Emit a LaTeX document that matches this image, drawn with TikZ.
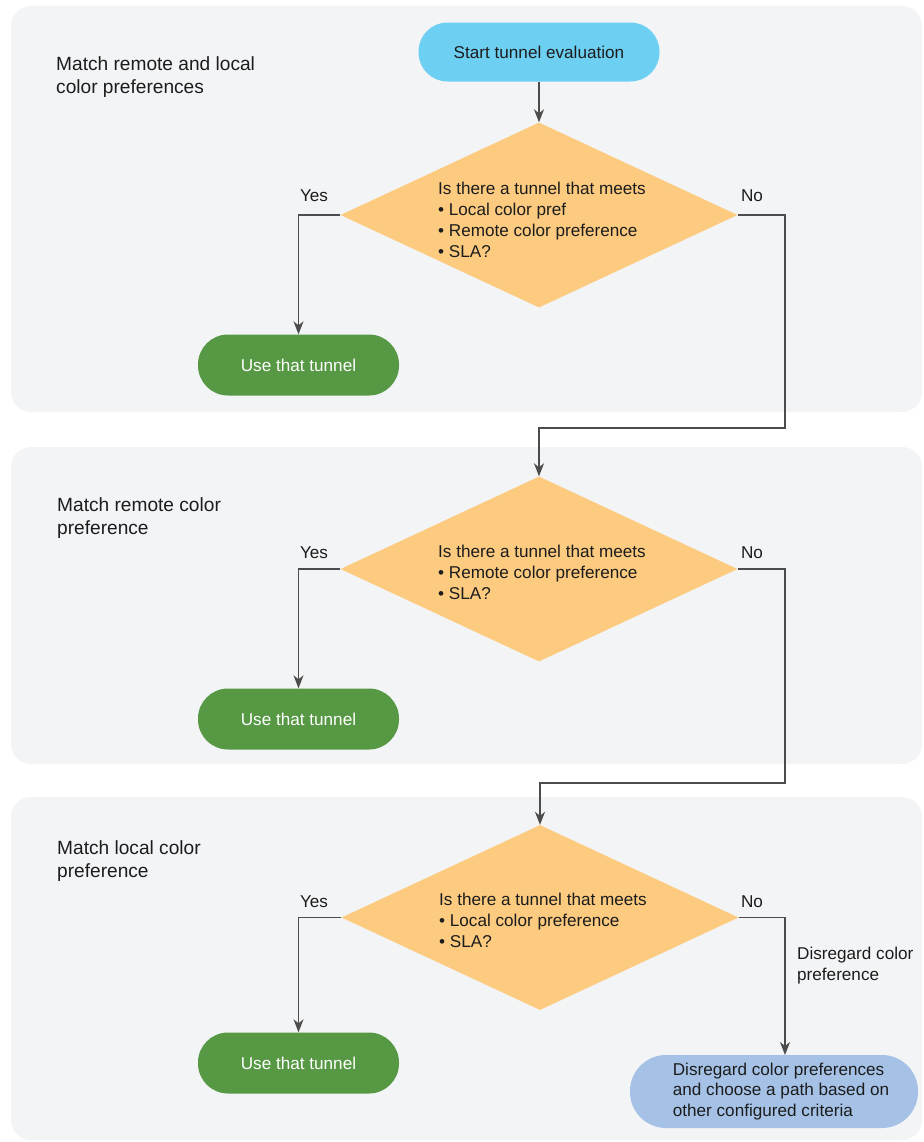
\documentclass[tikz,border=0pt]{standalone}
\usepackage{fontspec}
\setmainfont{Liberation Sans}
\usetikzlibrary{shapes.geometric,arrows.meta,positioning}
\definecolor{panelc}{HTML}{F3F4F6}
\definecolor{startc}{HTML}{6DCFF2}
\definecolor{decc}{HTML}{FCCB80}
\definecolor{greenc}{HTML}{569843}
\definecolor{bluec}{HTML}{A5C2E6}
\definecolor{linec}{HTML}{4C4C4C}
\definecolor{txtc}{HTML}{1C1C1C}
\tikzset{
  panel/.style={fill=panelc,draw=none,rounded corners=20bp},
  base/.style={font=\fontsize{17.2}{21}\selectfont,text=txtc},
  startbox/.style={base,shape=rectangle,rounded corners=29bp,fill=startc,minimum width=241bp,minimum height=59bp,inner sep=0},
  usebox/.style={base,shape=rectangle,rounded corners=30bp,fill=greenc,text=white,minimum width=201bp,minimum height=61bp,inner sep=0},
  endbox/.style={shape=rectangle,rounded corners=36bp,fill=bluec,minimum width=288bp,minimum height=73bp,inner sep=0},
  decbox/.style={shape=diamond,fill=decc,minimum width=397bp,minimum height=185bp,inner sep=0},
  dectext/.style={base,inner sep=0,align=left},
  lbl/.style={base,inner sep=0},
  seclbl/.style={inner sep=0,align=left,text=txtc,font=\fontsize{19.2}{23.5}\selectfont,anchor=north west},
  conn/.style={draw=linec,line width=1.5bp,-{Stealth[length=13bp,width=10bp,inset=4bp]}},
}
\begin{document}
\begin{tikzpicture}[x=1bp,y=-1bp]
\useasboundingbox (0,0) rectangle (924,1142);
\clip (0,0) rectangle (924,1142);
\fill[white] (0,0) rectangle (924,1142);
% panels
\path[panel] (11,6) rectangle (922,412);
\path[panel] (11,447) rectangle (922,764);
\path[panel] (11,797) rectangle (922,1140);
% section labels
\node[seclbl] (s1) at (56,56) {Match remote and local\\color preferences};
\node[seclbl] (s2) at (57,497) {Match remote color\\preference};
\node[seclbl] (s3) at (57,840) {Match local color\\preference};
% nodes
\node[startbox] (start) at (539,52) {Start tunnel evaluation};
\node[decbox] (d1) at (539,215) {};
\node[dectext] (t1) at (542,219.5) {Is there a tunnel that meets\\\textbullet{} Local color pref\\\textbullet{} Remote color preference\\\textbullet{} SLA?};
\node[usebox] (g1) at (298.5,365) {Use that tunnel};
\node[decbox] (d2) at (539,569) {};
\node[dectext] (t2) at (542,572.5) {Is there a tunnel that meets\\\textbullet{} Remote color preference\\\textbullet{} SLA?};
\node[usebox] (g2) at (298.5,719) {Use that tunnel};
\node[decbox] (d3) at (540,917.5) {};
\node[dectext] (t3) at (543,920.5) {Is there a tunnel that meets\\\textbullet{} Local color preference\\\textbullet{} SLA?};
\node[usebox] (g3) at (298.5,1063) {Use that tunnel};
\node[endbox] (e) at (774,1091.5) {};
\node[dectext] (et) at (781,1091.5) {Disregard color preferences\\and choose a path based on\\other configured criteria};
% helper coordinates
\coordinate (n1) at (785,428);
\coordinate (n2) at (785,783);
\coordinate (eTop) at (785,1055);
% connectors
\draw[conn] (start.south) -- (d1.north);
\draw[conn] (d1.west) -| (g1.north);
\draw[conn] (d1.east) -| (n1) -| (d2.north);
\draw[conn] (d2.west) -| (g2.north);
\draw[conn] (d2.east) -| (n2) -| (d3.north);
\draw[conn] (d3.west) -| (g3.north);
\draw[conn] (d3.east) -| (eTop);
% labels
\node[lbl] (y1) at (314,196) {Yes};
\node[lbl] (no1) at (752,196) {No};
\node[lbl] (y2) at (314,553) {Yes};
\node[lbl] (no2) at (752,553) {No};
\node[lbl] (y3) at (314,902) {Yes};
\node[lbl] (no3) at (752,902) {No};
\node[lbl,align=left,anchor=north west] (dis) at (797,947) {Disregard color\\preference};
\end{tikzpicture}
\end{document}
